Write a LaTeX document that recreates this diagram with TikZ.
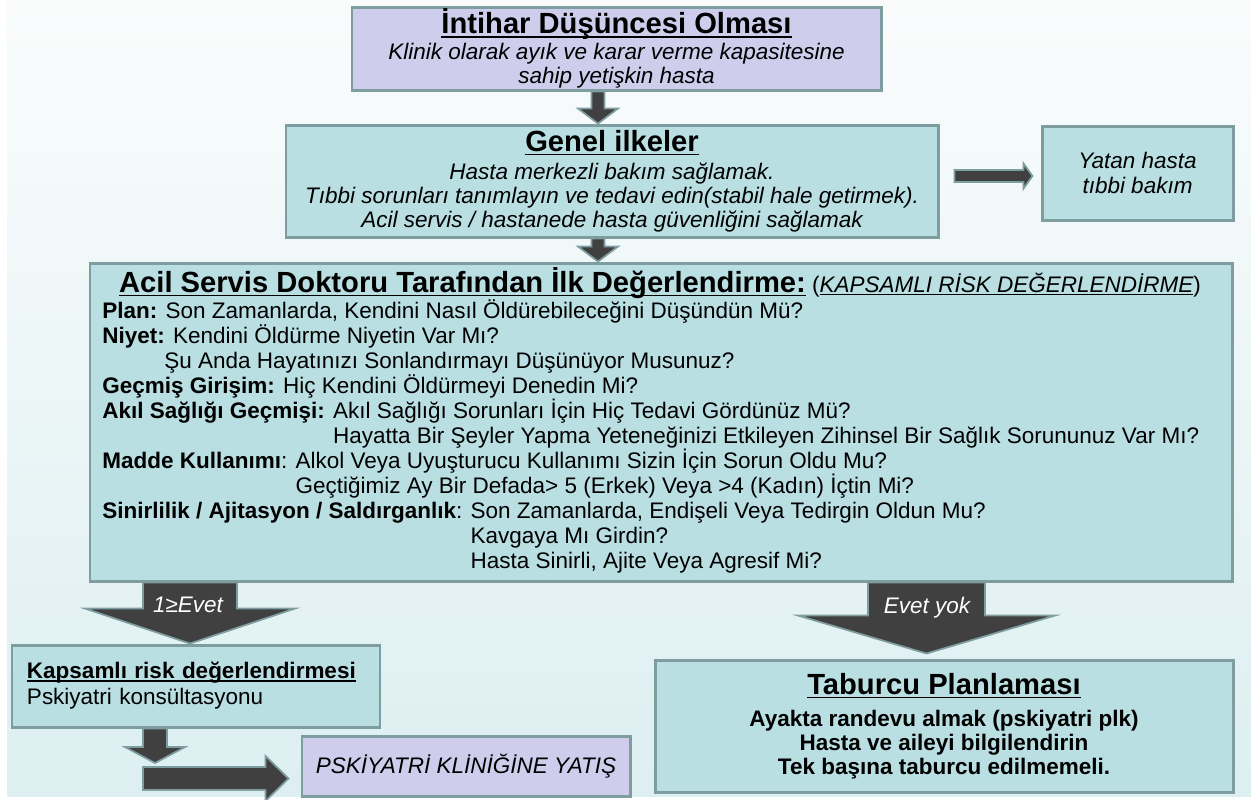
\documentclass[tikz,border=0pt]{standalone}
\usepackage{fontspec}
\setmainfont{Liberation Sans}
\usetikzlibrary{positioning,calc}
\definecolor{LavenderBox}{RGB}{207,205,236}
\definecolor{TealBox}{RGB}{185,223,227}
\definecolor{EdgeGray}{RGB}{126,157,160}
\definecolor{ArrowDark}{RGB}{64,64,64}
\definecolor{BgTop}{RGB}{250,252,252}
\definecolor{BgBottom}{RGB}{221,239,241}
\newcommand{\bodysize}{\fontsize{12.8}{13.6}\selectfont}
\newcommand{\headsize}{\fontsize{16.6}{18}\selectfont}
\newcommand{\undl}[1]{\setbox0\hbox{#1}\rlap{\rule[-0.13em]{\wd0}{0.9pt}}\box0}

\begin{document}
\begin{tikzpicture}[
  box/.style={draw=EdgeGray, line width=1.7pt, align=center, inner sep=0pt, font=\bodysize},
  blockarrow/.style={fill=ArrowDark, draw=EdgeGray, line width=1pt},
  fatdown/.style n args={3}{to path={let \p1=(\tikztostart), \p2=(\tikztotarget) in
    (\x2-#1,\y1) -- (\x2-#1,\y2+#3) -- (\x2-#2,\y2+#3) -- (\x2,\y2)
    -- (\x2+#2,\y2+#3) -- (\x2+#1,\y2+#3) -- (\x2+#1,\y1) -- cycle}},
  fatright/.style n args={3}{to path={let \p1=(\tikztostart), \p2=(\tikztotarget) in
    (\x1,\y1-#1) -- (\x2-#3,\y1-#1) -- (\x2-#3,\y1-#2) -- (\x2,\y1)
    -- (\x2-#3,\y1+#2) -- (\x2-#3,\y1+#1) -- (\x1,\y1+#1) -- cycle}},
  arrowlabel/.style={font=\bodysize\itshape, text=white}]
  \fill[white] (0,0) rectangle (25.02,-15.98);
  \shade[top color=BgTop, bottom color=BgBottom] (0.14,0) rectangle (25.02,-15.93);
  \useasboundingbox (0,0) rectangle (25.02,-15.98);

  \node[box, fill=LavenderBox, minimum width=10.58cm, minimum height=1.66cm,
        font=\bodysize\itshape] (ideation) at (12.33,-0.97)
    {{\headsize\bfseries\upshape\undl{İntihar Düşüncesi Olması}}\\[1.2pt]
     Klinik olarak ayık ve karar verme kapasitesine\\sahip yetişkin hasta};
  \node[box, fill=TealBox, minimum width=13.04cm, minimum height=2.24cm,
        font=\bodysize\itshape] (principles) at (12.24,-3.62)
    {{\headsize\bfseries\upshape\undl{Genel ilkeler}}\\[2.3pt]
     Hasta merkezli bakım sağlamak.\\
     Tıbbi sorunları tanımlayın ve tedavi edin(stabil hale getirmek).\\
     Acil servis / hastanede hasta güvenliğini sağlamak};
  \node[box, fill=TealBox, minimum width=3.82cm, minimum height=1.88cm,
        font=\fontsize{12.8}{14.2}\selectfont\itshape] (inpatient) at (22.75,-3.46)
    {Yatan hasta\\tıbbi bakım};
  \node[box, fill=TealBox, minimum width=22.84cm, minimum height=6.36cm] (assess) at (13.22,-8.44) {};
  \node[anchor=base, font=\bodysize] (assesstitle) at (13.20,-5.85)
    {{\headsize\bfseries\undl{Acil Servis Doktoru Tarafından İlk Değerlendirme:}}
     (\textit{\undl{KAPSAMLI RİSK DEĞERLENDİRME}})};
  \node[anchor=north west, align=left, inner sep=0pt,
        font=\fontsize{12.8}{14.23}\selectfont] (assessbody) at (2.04,-5.99)
    {\textbf{Plan:} Son Zamanlarda, Kendini Nasıl Öldürebileceğini Düşündün Mü?\\
     \textbf{Niyet:} Kendini Öldürme Niyetin Var Mı?\\
     \hspace*{1.24cm}Şu Anda Hayatınızı Sonlandırmayı Düşünüyor Musunuz?\\
     \textbf{Geçmiş Girişim:} Hiç Kendini Öldürmeyi Denedin Mi?\\
     \textbf{Akıl Sağlığı Geçmişi:} Akıl Sağlığı Sorunları İçin Hiç Tedavi Gördünüz Mü?\\
     \hphantom{\textbf{Akıl Sağlığı Geçmişi:} }Hayatta Bir Şeyler Yapma Yeteneğinizi Etkileyen Zihinsel Bir Sağlık Sorununuz Var Mı?\\
     \textbf{Madde Kullanımı}: Alkol Veya Uyuşturucu Kullanımı Sizin İçin Sorun Oldu Mu?\\
     \hphantom{\textbf{Madde Kullanımı}: }Geçtiğimiz Ay Bir Defada> 5 (Erkek) Veya >4 (Kadın) İçtin Mi?\\
     \textbf{Sinirlilik / Ajitasyon / Saldırganlık}: Son Zamanlarda, Endişeli Veya Tedirgin Oldun Mu?\\
     \hphantom{\textbf{Sinirlilik / Ajitasyon / Saldırganlık}: }Kavgaya Mı Girdin?\\
     \hphantom{\textbf{Sinirlilik / Ajitasyon / Saldırganlık}: }Hasta Sinirli, Ajite Veya Agresif Mi?};
  \node[box, fill=TealBox, minimum width=7.36cm, minimum height=1.64cm, align=left,
        text width=6.76cm] (riskfull) at (3.92,-13.72)
    {{\bfseries\undl{Kapsamlı risk değerlendirmesi}}\\[1.2pt]Pskiyatri konsültasyonu};
  \node[box, fill=TealBox, minimum width=11.56cm, minimum height=2.64cm,
        font=\bodysize\bfseries] (discharge) at (18.88,-14.52)
    {{\headsize\undl{Taburcu Planlaması}}\\[4.6pt]
     Ayakta randevu almak (pskiyatri plk)\\
     Hasta ve aileyi bilgilendirin\\
     Tek başına taburcu edilmemeli.};
  \node[box, fill=LavenderBox, minimum width=6.56cm, minimum height=1.2cm,
        font=\bodysize\itshape] (admission) at (9.32,-15.32) {PSKİYATRİ KLİNİĞİNE YATIŞ};
  \coordinate (bend) at (3.10,-15.57);

  \draw[blockarrow, fatdown={0.13cm}{0.40cm}{0.30cm}] (ideation.south) to ([xshift=-0.28cm]principles.north);
  \draw[blockarrow, fatdown={0.13cm}{0.40cm}{0.30cm}] (principles.south) to ([xshift=-1.26cm]assess.north);
  \draw[blockarrow, fatright={0.12cm}{0.25cm}{0.18cm}] ([xshift=0.30cm,yshift=0.10cm]principles.east) to ([xshift=-0.16cm]inpatient.west);
  \draw[blockarrow, fatdown={0.94cm}{2.10cm}{0.70cm}] (assess.south) to ([xshift=-0.12cm]riskfull.north);
  \draw[blockarrow, fatdown={1.17cm}{2.57cm}{0.76cm}] (assess.south) to ([xshift=-0.35cm,yshift=0.10cm]discharge.north);
  \draw[blockarrow, fatright={0.23cm}{0.45cm}{0.46cm}] ([xshift=-0.24cm]bend) to ([xshift=-0.24cm]admission.west);
  \draw[blockarrow, fatdown={0.24cm}{0.60cm}{0.32cm}] (riskfull.south) to ([yshift=0.31cm]bend);
  \node[arrowlabel] (yeslabel) at (3.76,-12.10) {1≥Evet};
  \node[arrowlabel] (nolabel) at (18.54,-12.16) {Evet yok};
\end{tikzpicture}
\end{document}
